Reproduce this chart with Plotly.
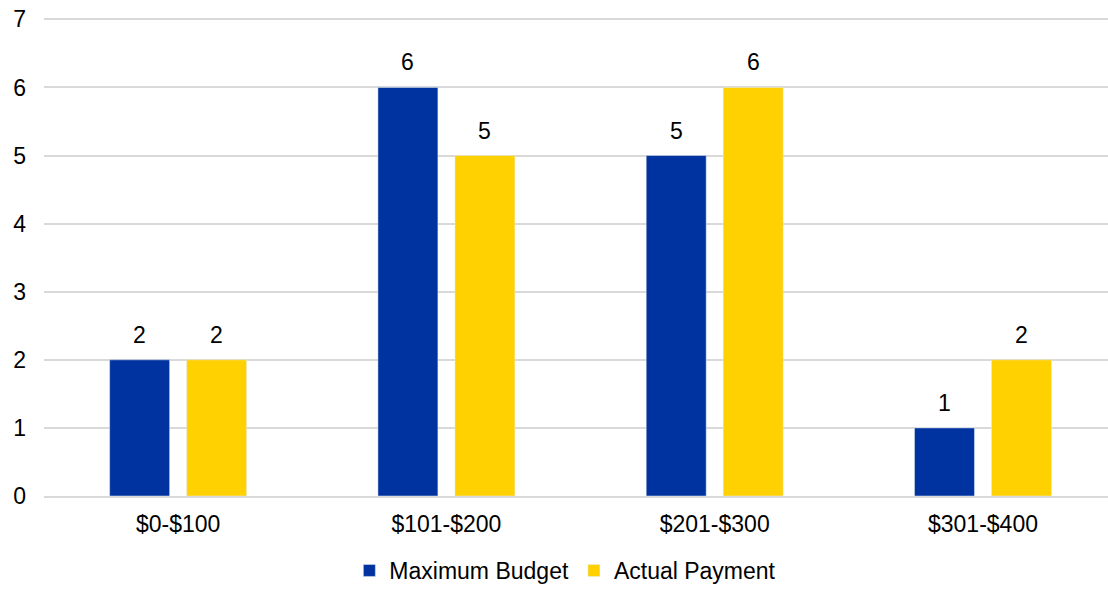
import plotly.graph_objects as go

categories = ["$0-$100", "$101-$200", "$201-$300", "$301-$400"]
max_budget = [2, 6, 5, 1]
actual_payment = [2, 5, 6, 2]
y_ticks = [0, 1, 2, 3, 4, 5, 6, 7]

BLUE = "#0033A0"
YELLOW = "#FFD100"
FONT = "Liberation Sans, Arial, sans-serif"
FS = 23

fig = go.Figure()
fig.add_trace(go.Bar(name="Maximum Budget", x=categories, y=max_budget,
                     marker_color=BLUE))
fig.add_trace(go.Bar(name="Actual Payment", x=categories, y=actual_payment,
                     marker_color=YELLOW))

# value labels above bars (data coordinates, shifted to each bar's slot)
for vals, shift in ((max_budget, -38.5), (actual_payment, 38.5)):
    for c, v in zip(categories, vals):
        fig.add_annotation(x=c, y=v, xref="x", yref="y", text=str(v),
                           showarrow=False, xshift=shift, yshift=10,
                           yanchor="bottom", font=dict(size=FS, color="#000"))

fig.update_layout(
    width=1108, height=592,
    margin=dict(l=44, r=0, t=18, b=95),
    paper_bgcolor="white", plot_bgcolor="white",
    font=dict(family=FONT, size=FS, color="#000"),
    barmode="group", bargap=0.426, bargroupgap=0.221,
    showlegend=True,
    legend=dict(orientation="h", x=0.49, xanchor="center", y=-0.157, yanchor="middle",
                font=dict(size=FS), itemwidth=30, traceorder="normal",
                borderwidth=0),
    yaxis=dict(range=[0, 7.02], tickvals=y_ticks, showgrid=True, gridcolor="#d9d9d9",
               gridwidth=2, zeroline=False, showline=False, ticks="", ticklabelstandoff=17,
               tickfont=dict(size=FS), automargin=False),
    xaxis=dict(range=[-0.5, 3.466], showgrid=False, showline=True, linecolor="#d9d9d9",
               linewidth=2, ticks="", tickfont=dict(size=FS), ticklabelstandoff=6,
               automargin=False),
)

fig.write_html("out.html", config={"displayModeBar": False},
               post_script="document.body.style.margin='0';document.body.style.overflow='hidden';")
